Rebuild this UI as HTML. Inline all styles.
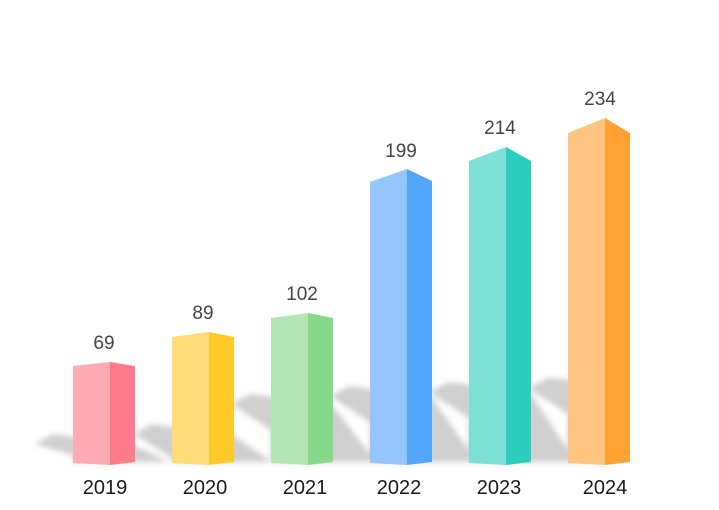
<!DOCTYPE html>
<html><head><style>body{margin:0;background:#fff}</style></head><body>
<svg width="719" height="505" viewBox="0 0 719 505" xmlns="http://www.w3.org/2000/svg" font-family="Liberation Sans, sans-serif">
<defs><filter id="b" x="-50%" y="-50%" width="200%" height="200%"><feGaussianBlur stdDeviation="3"/></filter></defs>
<g filter="url(#b)" fill="#cfcfcf">
<polygon points="35,444 53,434 135,446 170,462 73,462 73,455"/>
<polygon points="134,434 152,424 234,436 272,462 172,462 172,458"/>
<polygon points="231,404 251,394 333,406 376,462 271,462 271,430"/>
<polygon points="330,396 350,386 432,398 477,462 370,462 370,422"/>
<polygon points="429,392 449,382 531,394 576,462 469,462 469,418"/>
<polygon points="528,388 548,378 605,382 605,462 568,462 568,414"/>
</g>
<g>
<polygon points="73,366 110,362 110,465 73,463" fill="#ffabb6"/><polygon points="110,362 135,366 135,462 110,465" fill="#ff7b8a"/>
<polygon points="172,337 209,332 209,465 172,463" fill="#ffdc78"/><polygon points="209,332 234,337 234,462 209,465" fill="#ffca28"/>
<polygon points="271,318 308,313 308,465 271,463" fill="#b3e5b5"/><polygon points="308,313 333,318 333,462 308,465" fill="#86d88a"/>
<polygon points="370,182 407,169 407,465 370,463" fill="#95c5fa"/><polygon points="407,169 432,181 432,462 407,465" fill="#53a6fa"/>
<polygon points="469,161 506,147 506,465 469,463" fill="#7de0d6"/><polygon points="506,147 531,161 531,462 506,465" fill="#2ccdbc"/>
<polygon points="568,133 605,118 605,465 568,463" fill="#ffc480"/><polygon points="605,118 630,133 630,462 605,465" fill="#ffa233"/>
</g>
<g fill="#444" font-size="19" text-anchor="middle">
<text x="104" y="349">69</text><text x="203" y="319">89</text><text x="302" y="300">102</text>
<text x="401" y="157">199</text><text x="500" y="134">214</text><text x="600" y="105">234</text>
</g>
<g fill="#1a1a1a" font-size="20" text-anchor="middle">
<text x="105" y="494">2019</text><text x="205" y="494">2020</text><text x="305" y="494">2021</text>
<text x="399" y="494">2022</text><text x="499" y="494">2023</text><text x="605" y="494">2024</text>
</g>
</svg>
</body></html>
